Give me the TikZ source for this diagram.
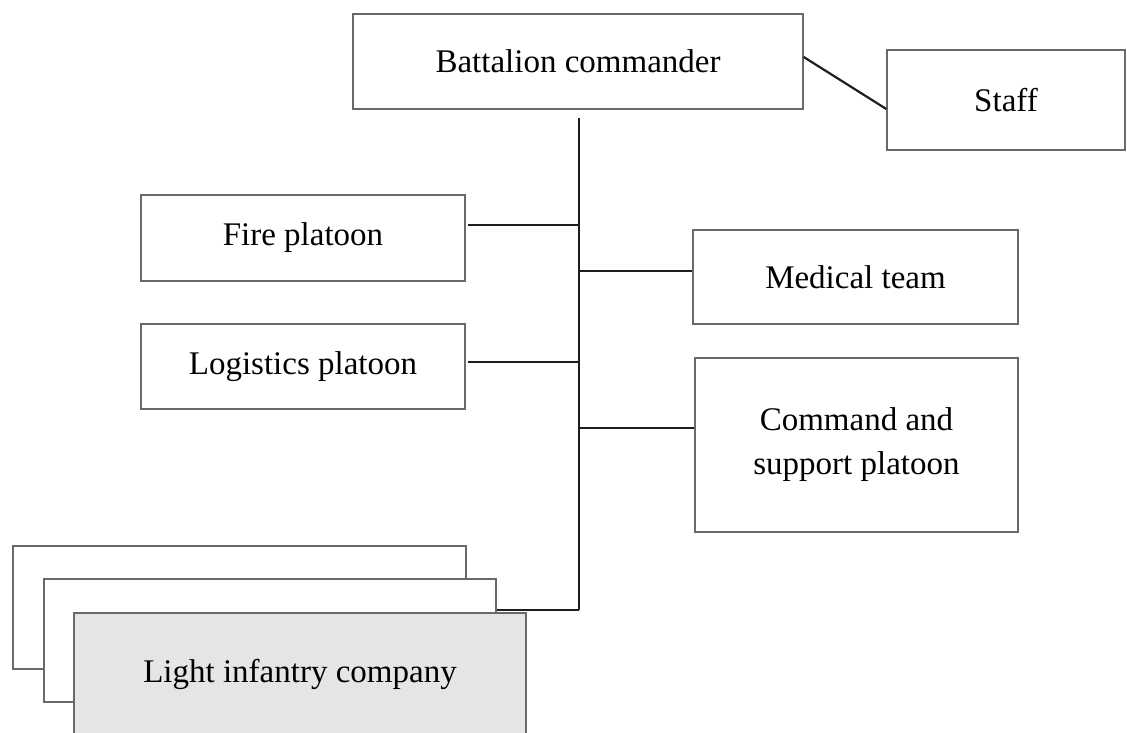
\documentclass[tikz,border=0pt]{standalone}
\usepackage{fontspec}
\setmainfont{Liberation Serif}
\definecolor{boxline}{RGB}{105,105,105}
\definecolor{conn}{RGB}{30,30,30}
\definecolor{lightfill}{RGB}{229,228,230}
\begin{document}
\begin{tikzpicture}[x=1pt,y=-1pt,
  box/.style={draw=boxline, line width=1.4pt, fill=white, rectangle, inner sep=0pt,
    font=\fontsize{33}{44}\selectfont, align=center},
  link/.style={draw=conn, line width=2.2pt}]
\useasboundingbox (0,0) rectangle (1127,733);
\clip (0,0) rectangle (1127,733);
% nodes
\node[box, minimum width=450pt, minimum height=95pt] (bc) at (578,61.5) {Battalion commander};
\node[box, minimum width=238pt, minimum height=100pt] (staff) at (1006,100) {Staff};
\node[box, minimum width=324pt, minimum height=86pt] (fire) at (303,238) {Fire platoon};
\node[box, minimum width=325pt, minimum height=94pt] (med) at (855.5,277) {Medical team};
\node[box, minimum width=324pt, minimum height=85pt] (log) at (303,366.5) {Logistics platoon};
\node[box, minimum width=323pt, minimum height=174pt] (cmd) at (856.5,445) {Command and\\support platoon};
\node[box, minimum width=453pt, minimum height=123pt] (back) at (239.5,607.5) {};
\node[box, minimum width=452pt, minimum height=123pt] (mid) at (270,640.5) {};
\node[box, fill=lightfill, minimum width=452pt, minimum height=123pt] (front) at (300,674.5) {Light infantry company};
% trunk
\coordinate (top) at (579,118);
\coordinate (bot) at (579,610);
\draw[link] (top) -- (bot);
% connectors
\draw[link] ([yshift=4.5pt]bc.east) -- ([yshift=-9pt]staff.west);
\draw[link] ([xshift=2pt,yshift=13pt]fire.east) coordinate (f1) -- (f1 -| top);
\draw[link] ([yshift=6pt]med.west) coordinate (m1) -- (m1 -| top);
\draw[link] ([xshift=2pt,yshift=4.5pt]log.east) coordinate (l1) -- (l1 -| top);
\draw[link] ([yshift=17pt]cmd.west) coordinate (c1) -- (c1 -| top);
\draw[link] ([yshift=30.5pt]mid.east) coordinate (s1) -- (s1 -| bot);
\end{tikzpicture}
\end{document}
